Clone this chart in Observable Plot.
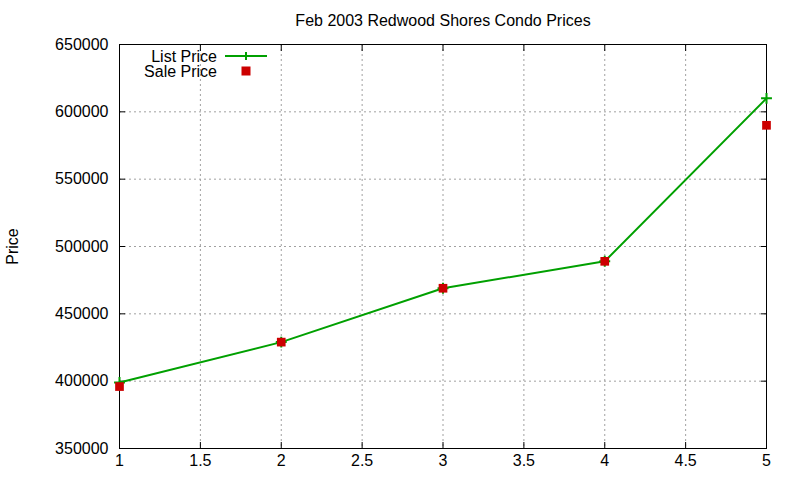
<!DOCTYPE html>
<html>
<head>
<meta charset="utf-8">
<script src="https://cdn.jsdelivr.net/npm/d3@7"></script>
<script src="https://cdn.jsdelivr.net/npm/@observablehq/plot@0.6"></script>
<style>
  html, body { margin: 0; padding: 0; background: #fff; }
  #wrap { position: relative; width: 800px; height: 480px; font-family: "Liberation Sans", Arial, sans-serif; }
  #legend { position: absolute; left: 0; top: 0; pointer-events: none; }
</style>
</head>
<body>
<div id="wrap"></div>
<script>
const title = "Feb 2003 Redwood Shores Condo Prices";
const yLabel = "Price";
const seriesNames = ["List Price", "Sale Price"];
const units = [1, 2, 3, 4, 5];
const listPrice = [399000, 429000, 469000, 489000, 610000];
const salePrice = [396000, 429000, 469000, 489000, 590000];
const xTicks = [1, 1.5, 2, 2.5, 3, 3.5, 4, 4.5, 5];
const yTicks = [350000, 400000, 450000, 500000, 550000, 600000, 650000];

const green = "#00a000";
const red = "#cc0000";

const listData = units.map((u, i) => ({x: u, y: listPrice[i]}));
const saleData = units.map((u, i) => ({x: u, y: salePrice[i]}));

const fmt = d3.format("d");

const chart = Plot.plot({
  width: 800,
  height: 480,
  marginLeft: 119,
  marginRight: 34,
  marginTop: 44,
  marginBottom: 32,
  style: {fontFamily: "Liberation Sans, Arial, sans-serif", fontSize: "16px", color: "#000", background: "#fff"},
  x: {domain: [1, 5], ticks: xTicks},
  y: {domain: [350000, 650000], ticks: yTicks},
  marks: [
    Plot.gridX(xTicks, {stroke: "#a0a0a0", strokeOpacity: 1, strokeDasharray: "2,3"}),
    Plot.gridY(yTicks, {stroke: "#a0a0a0", strokeOpacity: 1, strokeDasharray: "2,3"}),
    Plot.axisX(xTicks, {anchor: "bottom", tickSize: 0, tickPadding: 6, tickFormat: d => String(d), fontSize: 16, label: null}),
    Plot.axisY(yTicks, {anchor: "left", tickSize: 0, tickPadding: 11, tickFormat: fmt, fontSize: 16, label: null}),
    Plot.axisX(xTicks, {anchor: "bottom", tickSize: 6, dy: -6, text: null, label: null, stroke: "#000"}),
    Plot.axisX(xTicks, {anchor: "top", tickSize: 6, dy: 6, text: null, label: null, stroke: "#000"}),
    Plot.axisY(yTicks, {anchor: "left", tickSize: 6, dx: 6, text: null, label: null, stroke: "#000"}),
    Plot.axisY(yTicks, {anchor: "right", tickSize: 6, dx: -6, text: null, label: null, stroke: "#000"}),
    Plot.frame({stroke: "#000", strokeWidth: 1}),
    Plot.line(listData, {x: "x", y: "y", stroke: green, strokeWidth: 2}),
    Plot.dot(listData, {x: "x", y: "y", symbol: "plus", r: 3.6, stroke: green, strokeWidth: 2, strokeLinecap: "butt"}),
    Plot.dot(saleData, {x: "x", y: "y", symbol: "square", r: 4.9, fill: red, stroke: "none"}),
    Plot.text([title], {frameAnchor: "top", dy: -24, lineAnchor: "middle", textAnchor: "middle", fontSize: 16, fill: "#000"}),
    Plot.text([yLabel], {frameAnchor: "left", dx: -107, rotate: -90, lineAnchor: "middle", textAnchor: "middle", fontSize: 16, fill: "#000"})
  ]
});

const wrap = document.getElementById("wrap");
wrap.appendChild(chart);

// legend overlay
const leg = d3.select(wrap).append("svg")
  .attr("id", "legend").attr("width", 800).attr("height", 480)
  .style("font-family", "Liberation Sans, Arial, sans-serif").style("font-size", "16px");
const rows = [
  {name: seriesNames[0], y: 56, kind: "line"},
  {name: seriesNames[1], y: 71, kind: "square"}
];
rows.forEach(r => {
  leg.append("text").attr("x", 217).attr("y", r.y).attr("dy", "0.35em")
    .attr("text-anchor", "end").attr("fill", "#000").text(r.name);
  if (r.kind === "line") {
    leg.append("line").attr("x1", 225).attr("x2", 267).attr("y1", r.y).attr("y2", r.y)
      .attr("stroke", green).attr("stroke-width", 2);
    leg.append("path").attr("d", `M242,${r.y}h8M246,${r.y - 4}v8`)
      .attr("stroke", green).attr("stroke-width", 2);
  } else {
    leg.append("rect").attr("x", 241.5).attr("y", r.y - 4.5).attr("width", 9).attr("height", 9)
      .attr("fill", red);
  }
});
</script>
</body>
</html>
